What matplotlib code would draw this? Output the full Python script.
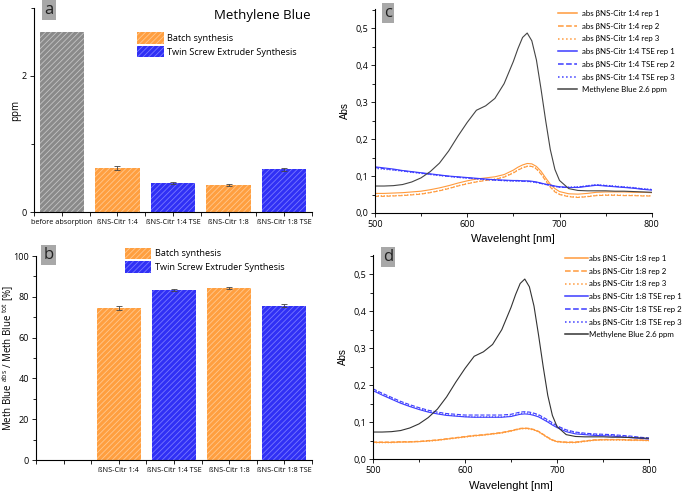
import matplotlib
matplotlib.use("Agg")
import matplotlib.pyplot as plt
from matplotlib.patches import Patch
from matplotlib.ticker import FuncFormatter, MultipleLocator, FixedLocator

plt.rcParams["font.family"] = ["Open Sans", "DejaVu Sans"]
plt.rcParams["hatch.linewidth"] = 0.6
plt.rcParams["axes.linewidth"] = 0.8

# --- bar data (panels a, b) ---
categories_a = ["before absorption", "ßNS-Citr 1:4", "ßNS-Citr 1:4 TSE", "ßNS-Citr 1:8", "ßNS-Citr 1:8 TSE"]
ppm_values = [2.65, 0.65, 0.43, 0.40, 0.63]
ppm_errors = [0.0, 0.03, 0.012, 0.015, 0.022]
kinds_a = ["ref", "batch", "tse", "batch", "tse"]

categories_b = ["", "ßNS-Citr 1:4", "ßNS-Citr 1:4 TSE", "ßNS-Citr 1:8", "ßNS-Citr 1:8 TSE"]
removed_pct = [0.0, 74.6, 83.3, 84.2, 75.6]
removed_err = [0.0, 1.0, 0.5, 0.6, 0.8]
kinds_b = ["none", "batch", "tse", "batch", "tse"]

# --- spectra (panels c, d) ---
wavelength = [500, 510, 520, 530, 540, 550, 560, 570, 580, 590, 600, 610, 620, 630, 640, 650,
              655, 660, 665, 670, 675, 680, 685, 690, 695, 700,
              710, 720, 730, 740, 750, 760, 770, 780, 790, 800]

mb_ref = [0.073, 0.073, 0.074, 0.077, 0.084, 0.095, 0.112, 0.135, 0.168, 0.208, 0.245, 0.278, 0.290, 0.310, 0.350, 0.410,
          0.445, 0.475, 0.487, 0.466, 0.414, 0.335, 0.250, 0.172, 0.118, 0.088,
          0.066, 0.061, 0.060, 0.060, 0.060, 0.059, 0.059, 0.058, 0.057, 0.056]

c14_rep1 = [0.053, 0.053, 0.054, 0.055, 0.057, 0.059, 0.063, 0.068, 0.074, 0.081, 0.087, 0.092, 0.095, 0.098, 0.104, 0.116,
            0.124, 0.130, 0.134, 0.133, 0.126, 0.113, 0.095, 0.078, 0.066, 0.058,
            0.052, 0.051, 0.053, 0.056, 0.057, 0.057, 0.057, 0.056, 0.056, 0.055]
c14_rep2 = [0.045, 0.045, 0.046, 0.047, 0.049, 0.051, 0.055, 0.060, 0.066, 0.073, 0.079, 0.084, 0.088, 0.091, 0.097, 0.108,
            0.116, 0.122, 0.126, 0.126, 0.119, 0.105, 0.087, 0.070, 0.057, 0.050,
            0.044, 0.042, 0.044, 0.047, 0.048, 0.048, 0.047, 0.047, 0.046, 0.046]
c14_rep3 = [0.047, 0.047, 0.047, 0.048, 0.050, 0.052, 0.056, 0.061, 0.067, 0.074, 0.080, 0.085, 0.089, 0.092, 0.098, 0.110,
            0.117, 0.123, 0.127, 0.127, 0.121, 0.107, 0.089, 0.072, 0.059, 0.051,
            0.045, 0.043, 0.045, 0.048, 0.049, 0.049, 0.048, 0.048, 0.047, 0.047]
c14tse_rep1 = [0.125, 0.122, 0.119, 0.115, 0.112, 0.109, 0.106, 0.103, 0.100, 0.098, 0.096, 0.094, 0.092, 0.090, 0.089, 0.088,
               0.088, 0.087, 0.087, 0.086, 0.084, 0.081, 0.078, 0.076, 0.073, 0.071,
               0.069, 0.069, 0.072, 0.075, 0.073, 0.071, 0.069, 0.067, 0.064, 0.062]
c14tse_rep2 = [0.123, 0.120, 0.117, 0.114, 0.111, 0.108, 0.105, 0.102, 0.099, 0.097, 0.095, 0.093, 0.091, 0.089, 0.088, 0.087,
               0.087, 0.086, 0.086, 0.085, 0.083, 0.080, 0.077, 0.075, 0.072, 0.070,
               0.069, 0.070, 0.073, 0.076, 0.074, 0.072, 0.070, 0.068, 0.065, 0.063]
c14tse_rep3 = [0.121, 0.118, 0.116, 0.113, 0.110, 0.107, 0.104, 0.101, 0.099, 0.096, 0.094, 0.092, 0.090, 0.089, 0.087, 0.086,
               0.086, 0.086, 0.085, 0.084, 0.082, 0.080, 0.077, 0.074, 0.072, 0.070,
               0.070, 0.071, 0.074, 0.077, 0.075, 0.073, 0.071, 0.069, 0.066, 0.064]

c18_rep1 = [0.045, 0.045, 0.045, 0.046, 0.046, 0.047, 0.049, 0.051, 0.054, 0.057, 0.060, 0.063, 0.065, 0.068, 0.071, 0.076,
            0.079, 0.082, 0.083, 0.082, 0.079, 0.074, 0.066, 0.058, 0.051, 0.047,
            0.045, 0.045, 0.048, 0.051, 0.052, 0.052, 0.052, 0.051, 0.051, 0.050]
c18_rep2 = [0.046, 0.046, 0.046, 0.047, 0.047, 0.048, 0.050, 0.052, 0.055, 0.058, 0.061, 0.064, 0.066, 0.069, 0.072, 0.077,
            0.080, 0.083, 0.084, 0.083, 0.080, 0.075, 0.067, 0.059, 0.052, 0.048,
            0.046, 0.046, 0.049, 0.052, 0.053, 0.053, 0.053, 0.052, 0.052, 0.051]
c18_rep3 = [0.044, 0.044, 0.044, 0.045, 0.046, 0.047, 0.048, 0.050, 0.053, 0.056, 0.059, 0.062, 0.064, 0.067, 0.070, 0.075,
            0.078, 0.081, 0.082, 0.081, 0.078, 0.073, 0.065, 0.057, 0.050, 0.046,
            0.044, 0.044, 0.047, 0.050, 0.051, 0.051, 0.051, 0.050, 0.050, 0.049]
c18tse_rep1 = [0.185, 0.173, 0.162, 0.151, 0.142, 0.134, 0.127, 0.122, 0.118, 0.116, 0.114, 0.113, 0.113, 0.113, 0.113, 0.115,
               0.118, 0.121, 0.122, 0.121, 0.118, 0.114, 0.107, 0.100, 0.092, 0.085,
               0.074, 0.068, 0.066, 0.064, 0.063, 0.062, 0.060, 0.058, 0.056, 0.054]
c18tse_rep2 = [0.190, 0.178, 0.167, 0.156, 0.147, 0.139, 0.132, 0.127, 0.123, 0.121, 0.119, 0.119, 0.119, 0.119, 0.119, 0.121,
               0.124, 0.127, 0.128, 0.127, 0.124, 0.120, 0.113, 0.106, 0.098, 0.090,
               0.079, 0.073, 0.070, 0.068, 0.067, 0.066, 0.064, 0.062, 0.059, 0.057]
c18tse_rep3 = [0.188, 0.175, 0.164, 0.153, 0.144, 0.136, 0.129, 0.124, 0.120, 0.117, 0.115, 0.114, 0.114, 0.114, 0.114, 0.117,
               0.120, 0.123, 0.125, 0.124, 0.121, 0.117, 0.110, 0.103, 0.095, 0.088,
               0.077, 0.071, 0.068, 0.066, 0.065, 0.064, 0.062, 0.060, 0.058, 0.056]

BAR_STYLE = {
    "ref": ("#8a8a8a", "#c4c4c4"),
    "batch": ("#ff9f40", "#ffc88f"),
    "tse": ("#3030f5", "#7878ff"),
}
ORANGE = "#ff9a3c"
BLUE = "#3c3cff"
LEGEND_FONT = ["Lato", "DejaVu Sans"]


def comma_fmt(v, _pos):
    return f"{v:.1f}".replace(".", ",")


def panel_tag(fig, x, y, letter):
    fig.text(x, y, letter, ha="center", va="center", fontsize=12, color="#222222",
             bbox=dict(boxstyle="square,pad=0.12", facecolor="#a8a8a8", edgecolor="none"))


def bar_panel(ax, labels, values, errors, kinds):
    xs = list(range(len(labels)))
    for x, v, e, k in zip(xs, values, errors, kinds):
        if k == "none":
            continue
        face, hatch = BAR_STYLE[k]
        ax.bar(x, v, width=0.8, color=face, edgecolor=hatch, linewidth=0, hatch="//////")
        if e > 0:
            ax.errorbar(x, v, yerr=e, fmt="none", ecolor="#444444", elinewidth=0.6, capsize=2, capthick=0.6)
    ax.set_xlim(-0.5, len(labels) - 0.5)
    ax.set_xticks(xs)
    ax.set_xticklabels(labels, fontsize=5.2)
    ax.xaxis.set_minor_locator(FixedLocator([i + 0.5 for i in range(-1, len(labels))]))
    ax.spines["top"].set_visible(False)
    ax.spines["right"].set_visible(False)
    ax.tick_params(axis="x", which="major", length=3, width=0.6, pad=2)
    ax.tick_params(axis="x", which="minor", length=3, width=0.6)
    ax.tick_params(axis="y", labelsize=6.5, length=3, width=0.6, pad=2)
    ax.tick_params(axis="y", which="minor", length=2, width=0.6)
    handles = [Patch(facecolor=BAR_STYLE["batch"][0], edgecolor=BAR_STYLE["batch"][1], linewidth=0, hatch="//////"),
               Patch(facecolor=BAR_STYLE["tse"][0], edgecolor=BAR_STYLE["tse"][1], linewidth=0, hatch="//////")]
    return handles


def spectra_panel(ax, series, anchor, handle_len, gap):
    for y, color, ls, label in series:
        ax.plot(wavelength, y, color=color, linestyle=ls, linewidth=0.8, label=label)
    ax.set_xlim(500, 800)
    ax.set_ylim(0, 0.552)
    ax.xaxis.set_major_locator(MultipleLocator(100))
    ax.xaxis.set_minor_locator(MultipleLocator(50))
    ax.yaxis.set_major_locator(MultipleLocator(0.1))
    ax.yaxis.set_minor_locator(MultipleLocator(0.05))
    ax.yaxis.set_major_formatter(FuncFormatter(comma_fmt))
    ax.spines["top"].set_visible(False)
    ax.spines["right"].set_visible(False)
    ax.tick_params(labelsize=6.5, length=3, width=0.6, pad=2)
    ax.tick_params(which="minor", length=2, width=0.6)
    ax.set_xlabel("Wavelenght [nm]", family=["Liberation Sans", "DejaVu Sans"], fontsize=8, labelpad=4)
    ax.set_ylabel("Abs", family=["Liberation Sans", "DejaVu Sans"], fontsize=7)
    ax.yaxis.set_label_coords(-0.09, 0.5)
    leg = ax.legend(loc="upper left", bbox_to_anchor=anchor, frameon=False, prop={"family": LEGEND_FONT, "size": 5.7},
                    handlelength=handle_len, handletextpad=gap, labelspacing=0.72, borderpad=0, borderaxespad=0)
    for line in leg.get_lines():
        line.set_linewidth(1.1)


fig = plt.figure(figsize=(6.84, 4.95), dpi=100)

# panel a
ax_a = fig.add_axes([0.0497, 0.5717, 0.4064, 0.4123])
handles = bar_panel(ax_a, categories_a, ppm_values, ppm_errors, kinds_a)
ax_a.set_ylim(0, 3.0)
ax_a.yaxis.set_major_locator(FixedLocator([0, 2]))
ax_a.yaxis.set_minor_locator(FixedLocator([1, 3]))
ax_a.set_ylabel("ppm", fontsize=7)
ax_a.yaxis.set_label_coords(-0.045, 0.5)
ax_a.text(0.82, 0.965, "Methylene Blue", transform=ax_a.transAxes, ha="center", va="center", fontsize=9.5)
ax_a.legend(handles, ["Batch synthesis", "Twin Screw Extruder Synthesis"], loc="upper left",
            bbox_to_anchor=(0.372, 0.88), frameon=False, fontsize=6.6, handlelength=2.9, handleheight=1.5,
            handletextpad=0.35, labelspacing=0.25, borderpad=0, borderaxespad=0)

# panel b
ax_b = fig.add_axes([0.0526, 0.0707, 0.4035, 0.4121])
handles = bar_panel(ax_b, categories_b, removed_pct, removed_err, kinds_b)
ax_b.set_ylim(0, 100)
ax_b.yaxis.set_major_locator(MultipleLocator(20))
ax_b.yaxis.set_minor_locator(MultipleLocator(10))
ax_b.set_ylabel(r"Meth Blue $^{\mathregular{abs}}$ / Meth Blue $^{\mathregular{tot}}$ [%]", fontsize=7)
ax_b.yaxis.set_label_coords(-0.072, 0.5)
ax_b.legend(handles, ["Batch synthesis", "Twin Screw Extruder Synthesis"], loc="upper left",
            bbox_to_anchor=(0.322, 1.04), frameon=False, fontsize=6.6, handlelength=2.9, handleheight=1.5,
            handletextpad=0.35, labelspacing=0.25, borderpad=0, borderaxespad=0)

# panel c
ax_c = fig.add_axes([0.548, 0.5697, 0.405, 0.4121])
spectra_panel(ax_c, [
    (c14_rep1, ORANGE, "-", "abs βNS-Citr 1:4 rep 1"),
    (c14_rep2, ORANGE, "--", "abs βNS-Citr 1:4 rep 2"),
    (c14_rep3, ORANGE, ":", "abs βNS-Citr 1:4 rep 3"),
    (c14tse_rep1, BLUE, "-", "abs βNS-Citr 1:4 TSE rep 1"),
    (c14tse_rep2, BLUE, "--", "abs βNS-Citr 1:4 TSE rep 2"),
    (c14tse_rep3, BLUE, ":", "abs βNS-Citr 1:4 TSE rep 3"),
    (mb_ref, "#444444", "-", "Methylene Blue 2.6 ppm"),
], anchor=(0.66, 0.995), handle_len=2.5, gap=0.6)

# panel d
ax_d = fig.add_axes([0.5453, 0.0727, 0.4035, 0.4121])
spectra_panel(ax_d, [
    (c18_rep1, ORANGE, "-", "abs βNS-Citr 1:8 rep 1"),
    (c18_rep2, ORANGE, "--", "abs βNS-Citr 1:8 rep 2"),
    (c18_rep3, ORANGE, ":", "abs βNS-Citr 1:8 rep 3"),
    (c18tse_rep1, BLUE, "-", "abs βNS-Citr 1:8 TSE rep 1"),
    (c18tse_rep2, BLUE, "--", "abs βNS-Citr 1:8 TSE rep 2"),
    (c18tse_rep3, BLUE, ":", "abs βNS-Citr 1:8 TSE rep 3"),
    (mb_ref, "#333333", "-", "Methylene Blue 2.6 ppm"),
], anchor=(0.696, 1.0), handle_len=2.9, gap=0.1)

panel_tag(fig, 0.0716, 0.980, "a")
panel_tag(fig, 0.0709, 0.485, "b")
panel_tag(fig, 0.567, 0.974, "c")
panel_tag(fig, 0.567, 0.481, "d")

fig.savefig("out.png", dpi=100)
